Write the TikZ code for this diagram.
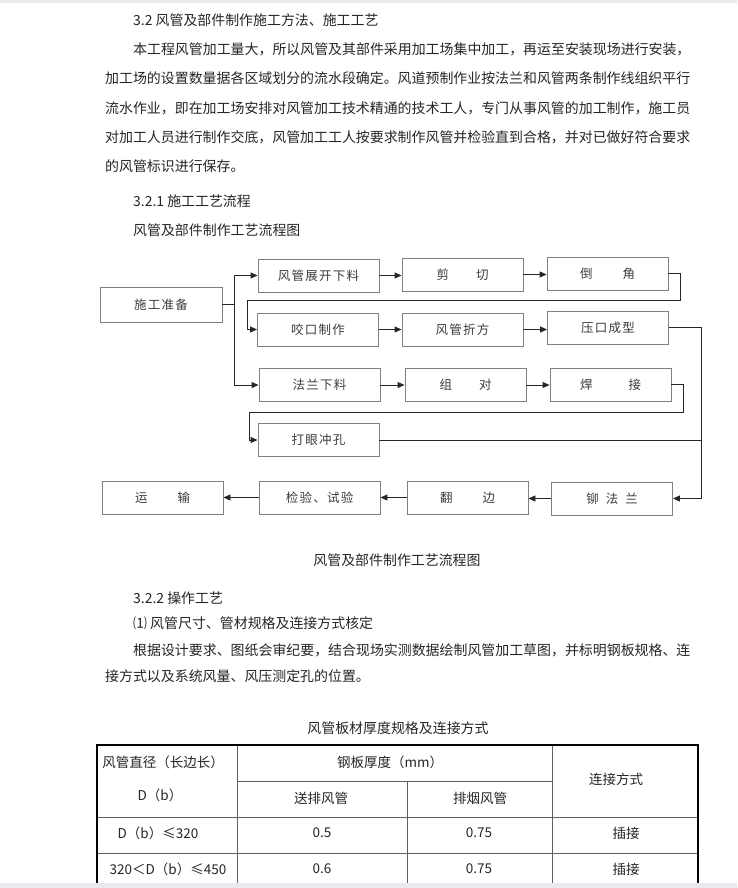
\documentclass[tikz,border=0pt]{standalone}
\usepackage{fontspec}
\setmainfont{Noto Sans CJK SC}
\newfontfamily\bxf[LetterSpace=10]{Noto Sans CJK SC}
\usetikzlibrary{arrows.meta,calc}
\definecolor{txt}{HTML}{262626}
\definecolor{btxt}{HTML}{3C3C3C}
\definecolor{bdr}{HTML}{808080}
\definecolor{edgec}{HTML}{E9EAEE}
\definecolor{grid}{HTML}{606060}
\begin{document}
\begin{tikzpicture}[x=1pt,y=-1pt,
  box/.style={draw=bdr,line width=0.9pt,minimum width=121pt,minimum height=33pt,inner sep=0pt,font=\bxf\fontsize{12.5}{14}\selectfont,text=btxt},
  arr/.style={draw=black!85,line width=0.9pt,-{Triangle[length=7pt,width=6pt]}},
  ln/.style={draw=black!85,line width=0.9pt},
  body/.style={anchor=west,inner sep=0pt,font=\fontsize{13.93}{14}\selectfont,text=txt},
  cell/.style={inner sep=0pt,font=\fontsize{13.5}{14}\selectfont,text=txt},
  thin/.style={draw=grid,line width=0.8pt},
  thick/.style={draw=black,line width=1.8pt}]
\useasboundingbox (0,0) rectangle (737,888);
\fill[white] (0,0) rectangle (737,888);

% ---------- text ----------
\node[body] (t1) at (133,20) {3.2 风管及部件制作施工方法、施工工艺};
\node[body] (p1) at (133,49) {本工程风管加工量大，所以风管及其部件采用加工场集中加工，再运至安装现场进行安装，};
\node[body] (p2) at (105,78) {加工场的设置数量据各区域划分的流水段确定。风道预制作业按法兰和风管两条制作线组织平行};
\node[body] (p3) at (105,108) {流水作业，即在加工场安排对风管加工技术精通的技术工人，专门从事风管的加工制作，施工员};
\node[body] (p4) at (105,137) {对加工人员进行制作交底，风管加工工人按要求制作风管并检验直到合格，并对已做好符合要求};
\node[body] (p5) at (105,166) {的风管标识进行保存。};
\node[body] (h1) at (133,201) {3.2.1 施工工艺流程};
\node[body] (h2) at (133,230) {风管及部件制作工艺流程图};

% ---------- flowchart ----------
\node[box,minimum width=122pt,minimum height=35pt] (prep) at (161,304.5) {施工准备};
\node[box] (b11) at (318.5,275.5) {风管展开下料};
\node[box] (b12) at (462.5,274.5) {剪\hspace{27pt}切};
\node[box] (b13) at (607.5,273.5) {倒\hspace{30pt}角};
\node[box] (b21) at (318,329.5) {咬口制作};
\node[box] (b22) at (462.5,329.5) {风管折方};
\node[box] (b23) at (608,327.5) {压口成型};
\node[box] (b31) at (319.5,385) {法兰下料};
\node[box] (b32) at (465.5,385) {组\hspace{27pt}对};
\node[box] (b33) at (610.5,384.5) {焊\hspace{36pt}接};
\node[box] (b4) at (318.5,440) {打眼冲孔};
\node[box] (b51) at (162.5,497.5) {运\hspace{30pt}输};
\node[box] (b52) at (319.5,497.5) {检验、试验};
\node[box] (b53) at (467.5,497.5) {翻\hspace{30pt}边};
\node[box] (b54) at (612,498.5) {铆\hspace{7pt}法\hspace{7pt}兰};

\draw[arr] (prep.east) -- ++(12,0) |- (b11.west);
\draw[arr] (prep.east) -- ++(12,0) |- (b31.west);
\draw[arr] (b11.east) -- (b11.east -| b12.west);
\draw[arr] (b12.east) -- (b12.east -| b13.west);
\draw[arr] (b21.east) -- (b21.east -| b22.west);
\draw[arr] (b22.east) -- (b22.east -| b23.west);
\draw[arr] (b31.east) -- (b31.east -| b32.west);
\draw[arr] (b32.east) -- (b32.east -| b33.west);

\coordinate (r1) at (680,300);
\coordinate (l1) at (247,300);
\draw[arr] (b13.east) -| (r1) -- (l1) |- (b21.west);

\coordinate (r2) at (701,498.5);
\draw[arr] (b23.east) -| (r2) -- (b54.east);

\coordinate (r3) at (683,412);
\coordinate (l3) at (249,412);
\draw[arr] (b33.east) -| (r3) -- (l3) |- (b4.west);

\coordinate (j4) at (701,440);
\draw[ln] (b4.east) -- (j4);

\draw[arr] (b54.west) -- (b54.west -| b53.east);
\draw[arr] (b53.west) -- (b53.west -| b52.east);
\draw[arr] (b52.west) -- (b52.west -| b51.east);

\node[body,anchor=center] (cap) at (397,560) {风管及部件制作工艺流程图};
\node[body] (h3) at (133,598) {3.2.2 操作工艺};
\node[body] (h4) at (133,623) {⑴ 风管尺寸、管材规格及连接方式核定};
\node[body] (q1) at (133,650) {根据设计要求、图纸会审纪要，结合现场实测数据绘制风管加工草图，并标明钢板规格、连};
\node[body] (q2) at (105,676) {接方式以及系统风量、风压测定孔的位置。};

% ---------- table ----------
\node[body,anchor=center] (tt) at (398,728) {风管板材厚度规格及连接方式};
\draw[thin] (237,781) -- (552,781);
\draw[thin] (97,817) -- (698,817);
\draw[thin] (97,853) -- (698,853);
\draw[thin] (237,745) -- (237,888);
\draw[thin] (407,781) -- (407,888);
\draw[thin] (552,745) -- (552,888);
\draw[thick] (97,888) -- (97,745) -- (698,745) -- (698,888);

\node[cell] (c11) at (163,762) {风管直径（长边长）};
\node[cell] (c12) at (160,795) {D（b）};
\node[cell] (c2) at (390,762) {钢板厚度（mm）};
\node[cell] (c21) at (321,798) {送排风管};
\node[cell] (c22) at (480,798) {排烟风管};
\node[cell] (c3) at (616,779) {连接方式};
\node[cell] (r11) at (158,833) {D（b）≤320};
\node[cell] (r12) at (322,833) {0.5};
\node[cell] (r13) at (479,833) {0.75};
\node[cell] (r14) at (626,833) {插接};
\node[cell] (r21) at (168,869) {320＜D（b）≤450};
\node[cell] (r22) at (322,869) {0.6};
\node[cell] (r23) at (479,869) {0.75};
\node[cell] (r24) at (626,869) {插接};

\fill[edgec] (0,0) rectangle (737,3);
\fill[edgec] (0,883) rectangle (737,888);
\end{tikzpicture}
\end{document}
